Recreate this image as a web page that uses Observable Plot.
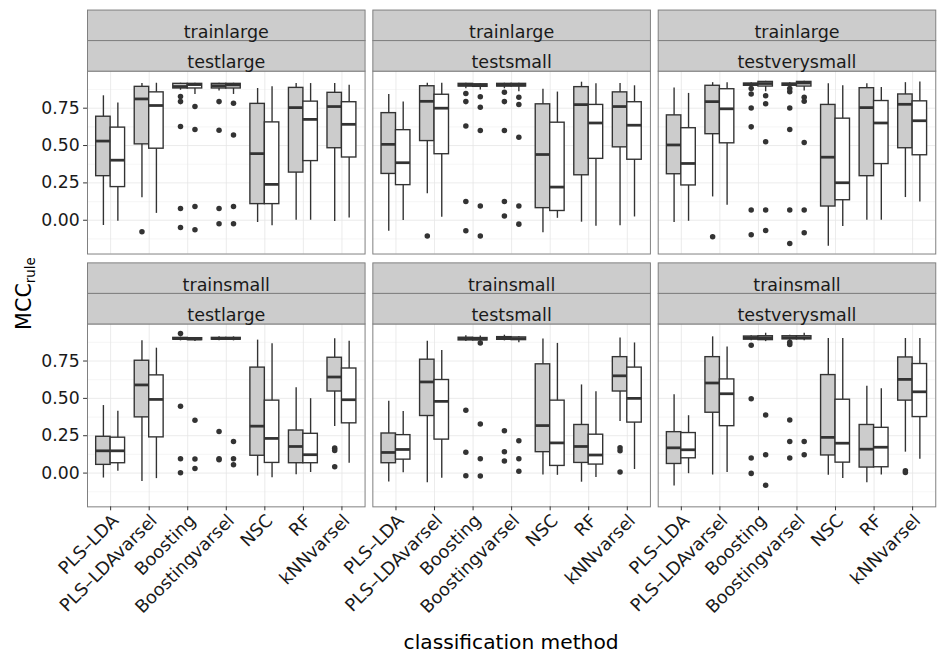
<!DOCTYPE html>
<html><head><meta charset="utf-8">
<script src="https://cdn.jsdelivr.net/npm/d3@7"></script>
<script src="https://cdn.jsdelivr.net/npm/@observablehq/plot@0.6"></script>
<style>
html,body{margin:0;padding:0;background:#fff;overflow:hidden;}
#chart{width:940px;height:663px;overflow:hidden;position:relative;}
</style></head><body><div id="chart"></div>
<script>
// ---------- data ----------
const methods = ["PLS–LDA","PLS–LDAvarsel","Boosting","Boostingvarsel","NSC","RF","kNNvarsel"];
const trainSets = ["trainlarge","trainsmall"];
const testSets = ["testlarge","testsmall","testverysmall"];
const groups = ["grey","white"];
const yTicks = [0, 0.25, 0.5, 0.75];
const yMinorTicks = [-0.125, 0.125, 0.375, 0.625, 0.875];

// [lower whisker, Q1, median, Q3, upper whisker] for each method
const trainlarge_testlarge_grey = [[-0.035,0.295,0.530,0.693,0.833],[0.150,0.508,0.812,0.893,0.915],[0.870,0.882,0.895,0.913,0.917],[0.865,0.882,0.900,0.913,0.917],[-0.015,0.108,0.446,0.779,0.882],[0.000,0.319,0.754,0.886,0.915],[-0.009,0.482,0.761,0.853,0.915]];
const trainlarge_testlarge_white = [[-0.007,0.222,0.402,0.620,0.785],[0.046,0.479,0.768,0.856,0.917],[0.842,0.882,0.908,0.913,0.917],[0.842,0.882,0.905,0.913,0.917],[-0.037,0.108,0.240,0.655,0.893],[0.000,0.396,0.675,0.794,0.915],[0.015,0.420,0.642,0.790,0.904]];
const trainlarge_testsmall_grey = [[-0.073,0.310,0.508,0.717,0.842],[0.178,0.530,0.796,0.897,0.917],[0.880,0.895,0.905,0.913,0.917],[0.880,0.895,0.905,0.913,0.917],[-0.084,0.081,0.440,0.776,0.877],[-0.013,0.301,0.774,0.891,0.924],[-0.037,0.488,0.761,0.856,0.915]];
const trainlarge_testsmall_white = [[-0.002,0.235,0.385,0.603,0.792],[0.020,0.442,0.750,0.840,0.917],[0.871,0.893,0.905,0.910,0.915],[0.860,0.895,0.905,0.913,0.917],[0.013,0.062,0.222,0.653,0.858],[-0.040,0.411,0.651,0.772,0.913],[0.022,0.405,0.636,0.790,0.900]];
const trainlarge_testverysmall_grey = [[-0.015,0.308,0.504,0.702,0.886],[0.156,0.576,0.794,0.900,0.921],[0.890,0.900,0.910,0.915,0.921],[0.890,0.900,0.910,0.915,0.921],[-0.174,0.092,0.422,0.772,0.913],[0.000,0.295,0.754,0.884,0.913],[0.152,0.482,0.776,0.842,0.921]];
const trainlarge_testverysmall_white = [[-0.007,0.233,0.380,0.616,0.849],[0.101,0.515,0.746,0.877,0.921],[0.860,0.895,0.915,0.926,0.930],[0.865,0.895,0.918,0.926,0.930],[-0.042,0.134,0.251,0.680,0.900],[0.000,0.376,0.651,0.798,0.889],[0.123,0.435,0.666,0.796,0.926]];
const trainsmall_testlarge_grey = [[-0.033,0.055,0.149,0.243,0.452],[-0.057,0.373,0.590,0.752,0.886],[0.885,0.893,0.900,0.905,0.910],[0.885,0.893,0.900,0.905,0.912],[-0.020,0.116,0.314,0.706,0.890],[-0.011,0.066,0.178,0.285,0.572],[0.311,0.546,0.643,0.772,0.899]];
const trainsmall_testlarge_white = [[0.013,0.066,0.149,0.237,0.414],[-0.037,0.239,0.493,0.654,0.836],[0.880,0.890,0.898,0.903,0.908],[0.885,0.893,0.900,0.905,0.912],[-0.031,0.068,0.232,0.485,0.866],[0.004,0.066,0.123,0.263,0.498],[0.066,0.333,0.491,0.700,0.882]];
const trainsmall_testsmall_grey = [[-0.059,0.066,0.138,0.265,0.480],[-0.064,0.382,0.610,0.759,0.882],[0.880,0.888,0.900,0.906,0.919],[0.885,0.892,0.902,0.910,0.923],[-0.013,0.140,0.318,0.728,0.897],[-0.061,0.068,0.178,0.322,0.590],[0.346,0.546,0.651,0.776,0.904]];
const trainsmall_testsmall_white = [[0.002,0.090,0.158,0.254,0.412],[-0.035,0.224,0.480,0.623,0.820],[0.880,0.888,0.898,0.904,0.917],[0.873,0.890,0.900,0.908,0.915],[-0.015,0.048,0.202,0.485,0.868],[-0.029,0.057,0.121,0.257,0.544],[0.024,0.338,0.500,0.706,0.871]];
const trainsmall_testverysmall_grey = [[-0.086,0.061,0.169,0.274,0.524],[-0.013,0.404,0.603,0.776,0.912],[0.885,0.893,0.906,0.914,0.920],[0.885,0.895,0.906,0.916,0.922],[-0.015,0.118,0.239,0.656,0.901],[-0.064,0.037,0.160,0.322,0.581],[0.140,0.485,0.627,0.774,0.901]];
const trainsmall_testverysmall_white = [[-0.004,0.099,0.156,0.268,0.384],[0.004,0.314,0.531,0.627,0.844],[0.880,0.890,0.906,0.916,0.936],[0.885,0.895,0.906,0.916,0.936],[-0.037,0.070,0.200,0.491,0.901],[-0.013,0.039,0.173,0.303,0.564],[0.092,0.375,0.544,0.730,0.901]];

// outliers: [method, group, value]
const trainlarge_testlarge_out = [["PLS–LDAvarsel","grey",-0.077],["Boosting","grey",0.829],["Boosting","grey",0.794],["Boosting","grey",0.627],["Boosting","grey",0.079],["Boosting","grey",-0.048],["Boostingvarsel","grey",0.794],["Boostingvarsel","grey",0.603],["Boostingvarsel","grey",0.079],["Boostingvarsel","grey",-0.024],["Boosting","white",0.761],["Boosting","white",0.607],["Boosting","white",0.092],["Boosting","white",-0.064],["Boostingvarsel","white",0.783],["Boostingvarsel","white",0.570],["Boostingvarsel","white",0.092],["Boostingvarsel","white",-0.024]];
const trainlarge_testsmall_out = [["PLS–LDAvarsel","grey",-0.106],["Boosting","grey",0.849],["Boosting","grey",0.794],["Boosting","grey",0.631],["Boosting","grey",0.125],["Boosting","grey",-0.070],["Boostingvarsel","grey",0.856],["Boostingvarsel","grey",0.794],["Boostingvarsel","grey",0.600],["Boostingvarsel","grey",0.125],["Boostingvarsel","grey",0.029],["Boosting","white",0.827],["Boosting","white",0.757],["Boosting","white",0.600],["Boosting","white",0.095],["Boosting","white",-0.106],["Boostingvarsel","white",0.823],["Boostingvarsel","white",0.774],["Boostingvarsel","white",0.556],["Boostingvarsel","white",0.095],["Boostingvarsel","white",-0.026]];
const trainlarge_testverysmall_out = [["PLS–LDAvarsel","grey",-0.110],["Boosting","grey",0.882],["Boosting","grey",0.845],["Boosting","grey",0.752],["Boosting","grey",0.625],["Boosting","grey",0.068],["Boosting","grey",-0.097],["Boostingvarsel","grey",0.882],["Boostingvarsel","grey",0.860],["Boostingvarsel","grey",0.752],["Boostingvarsel","grey",0.607],["Boostingvarsel","grey",0.068],["Boostingvarsel","grey",-0.156],["Boosting","white",0.834],["Boosting","white",0.779],["Boosting","white",0.526],["Boosting","white",0.068],["Boosting","white",-0.068],["Boostingvarsel","white",0.823],["Boostingvarsel","white",0.796],["Boostingvarsel","white",0.521],["Boostingvarsel","white",0.068],["Boostingvarsel","white",-0.084]];
const trainsmall_testlarge_out = [["Boosting","grey",0.934],["Boosting","grey",0.447],["Boosting","grey",0.096],["Boosting","grey",0.002],["Boostingvarsel","grey",0.279],["Boostingvarsel","grey",0.096],["Boostingvarsel","grey",0.090],["kNNvarsel","grey",0.167],["kNNvarsel","grey",0.151],["kNNvarsel","grey",0.042],["Boosting","white",0.353],["Boosting","white",0.094],["Boosting","white",0.031],["Boostingvarsel","white",0.211],["Boostingvarsel","white",0.096],["Boostingvarsel","white",0.055]];
const trainsmall_testsmall_out = [["Boosting","grey",0.421],["Boosting","grey",0.140],["Boosting","grey",-0.018],["Boostingvarsel","grey",0.283],["Boostingvarsel","grey",0.143],["Boostingvarsel","grey",0.081],["kNNvarsel","grey",0.169],["kNNvarsel","grey",0.150],["kNNvarsel","grey",0.007],["Boosting","white",0.871],["Boosting","white",0.329],["Boosting","white",0.096],["Boosting","white",-0.020],["Boostingvarsel","white",0.217],["Boostingvarsel","white",0.096],["Boostingvarsel","white",0.013]];
const trainsmall_testverysmall_out = [["Boosting","grey",0.855],["Boosting","grey",0.498],["Boosting","grey",0.101],["Boosting","grey",-0.002],["Boostingvarsel","grey",0.875],["Boostingvarsel","grey",0.860],["Boostingvarsel","grey",0.355],["Boostingvarsel","grey",0.211],["Boostingvarsel","grey",0.101],["kNNvarsel","grey",0.015],["kNNvarsel","grey",0.004],["Boosting","white",0.388],["Boosting","white",0.123],["Boosting","white",-0.081],["Boostingvarsel","white",0.211],["Boostingvarsel","white",0.123]];

// ---------- tables built from the arrays ----------
const panels = [
  ["trainlarge","testlarge",trainlarge_testlarge_grey,trainlarge_testlarge_white,trainlarge_testlarge_out],
  ["trainlarge","testsmall",trainlarge_testsmall_grey,trainlarge_testsmall_white,trainlarge_testsmall_out],
  ["trainlarge","testverysmall",trainlarge_testverysmall_grey,trainlarge_testverysmall_white,trainlarge_testverysmall_out],
  ["trainsmall","testlarge",trainsmall_testlarge_grey,trainsmall_testlarge_white,trainsmall_testlarge_out],
  ["trainsmall","testsmall",trainsmall_testsmall_grey,trainsmall_testsmall_white,trainsmall_testsmall_out],
  ["trainsmall","testverysmall",trainsmall_testverysmall_grey,trainsmall_testverysmall_white,trainsmall_testverysmall_out]
];
const boxes = panels.flatMap(([train,test,g,w]) =>
  [[g,groups[0]],[w,groups[1]]].flatMap(([arr,group]) =>
    arr.map((s,i) => ({train,test,group,method:methods[i],idx:i,lo:s[0],q1:s[1],med:s[2],q3:s[3],hi:s[4]}))));
const outliers = panels.flatMap(([train,test,,,out]) =>
  out.map(([m,group,value]) => ({train,test,group,idx:methods.indexOf(m),value})));
const strips = panels.map(([train,test]) => ({train,test}));
const methodIdx = methods.map((_,i) => i);
const xLabels = testSets.flatMap(test => methods.map((m,i) => ({train:trainSets[1],test,idx:i,method:m})));

// ---------- layout / style ----------
const W = 954, H = 663;
const mL = 88.3, mR = 4.8, mT = 71.7, mB = 149.1;
const stripH = 31;
const panelH = 185.6;
const half = 0.375;               // dodge width of each box (x units)
const isFirst = d => d.group === groups[0];
const xLeft = d => isFirst(d) ? d.idx - half : d.idx;
const xRight = d => isFirst(d) ? d.idx : d.idx + half;
const xMid = d => isFirst(d) ? d.idx - half/2 : d.idx + half/2;
const ink = "#333333";
const fillFor = {grey: "#cccccc", white: "#ffffff"};
const font = "DejaVu Sans";

const boxMarks = groups.map(g => Plot.rect(boxes.filter(d => d.group === g),
  {fx: "test", fy: "train", x1: xLeft, x2: xRight, y1: "q1", y2: "q3", fill: fillFor[g], stroke: ink, strokeWidth: 1.4}));

const chart = Plot.plot({
  width: W, height: H,
  marginLeft: mL, marginRight: mR, marginTop: mT, marginBottom: mB,
  style: {fontFamily: font, background: "white", overflow: "visible"},
  x: {type: "linear", domain: [-0.6, 6.6], axis: null},
  y: {domain: [-0.226, 0.998], axis: null},
  fx: {domain: testSets, paddingInner: 0.02728, paddingOuter: 0, round: false, axis: null},
  fy: {domain: trainSets, paddingInner: 0.2767, paddingOuter: 0, round: false, axis: null},
  marks: [
    Plot.gridY({ticks: yMinorTicks, stroke: "#f7f7f7", strokeOpacity: 1, strokeWidth: 1.2}),
    Plot.gridY({ticks: yTicks, stroke: "#e5e5e5", strokeOpacity: 1, strokeWidth: 0.8}),
    Plot.gridX({ticks: methodIdx, stroke: "#e5e5e5", strokeOpacity: 1, strokeWidth: 0.8}),
    Plot.ruleX(boxes, {fx: "test", fy: "train", x: xMid, y1: "lo", y2: "hi", stroke: ink, strokeWidth: 1.4}),
    ...boxMarks,
    Plot.ruleY(boxes, {fx: "test", fy: "train", y: "med", x1: xLeft, x2: xRight, stroke: ink, strokeWidth: 2.8}),
    Plot.dot(outliers, {fx: "test", fy: "train", x: xMid, y: "value", r: 2.8, fill: ink, stroke: null}),
    Plot.frame({stroke: "#7f7f7f", strokeWidth: 1}),
    Plot.frame({fill: "#cccccc", stroke: "#7f7f7f", strokeWidth: 1, insetTop: -2*stripH, insetBottom: panelH + stripH}),
    Plot.frame({fill: "#cccccc", stroke: "#7f7f7f", strokeWidth: 1, insetTop: -stripH, insetBottom: panelH}),
    Plot.text(strips, {fx: "test", fy: "train", text: "train", frameAnchor: "top", dy: -1.5*stripH, fontSize: 17.8, fill: "#1a1a1a"}),
    Plot.text(strips, {fx: "test", fy: "train", text: "test", frameAnchor: "top", dy: -0.5*stripH, fontSize: 17.8, fill: "#1a1a1a"}),
    Plot.axisY({ticks: yTicks, tickFormat: d3.format(".2f"), tickSize: 4, tickPadding: 4, fontSize: 17.5, stroke: ink, fill: "#1a1a1a", label: null}),
    Plot.axisX({ticks: methodIdx, tickFormat: () => "", tickSize: 4, stroke: ink, label: null}),
    Plot.text(xLabels, {fx: "test", fy: "train", x: "idx", text: "method", frameAnchor: "bottom", rotate: -45, textAnchor: "end", lineAnchor: "top", dy: 6, fontSize: 18, fill: "#1a1a1a"})
  ]
});

const svg = d3.select(chart);
svg.append("text")
  .attr("x", 518.7).attr("y", 659)
  .attr("text-anchor", "middle").attr("font-family", font).attr("font-size", 20.5)
  .attr("fill", "#000").text("classification method");
const yl = svg.append("text")
  .attr("transform", "translate(31,298) rotate(-90)")
  .attr("text-anchor", "middle").attr("font-family", font).attr("font-size", 21).attr("fill", "#000");
yl.append("tspan").text("MCC");
yl.append("tspan").attr("font-size", 13.5).attr("dy", 5).text("rule");

document.getElementById("chart").appendChild(chart);
</script>
</body></html>
